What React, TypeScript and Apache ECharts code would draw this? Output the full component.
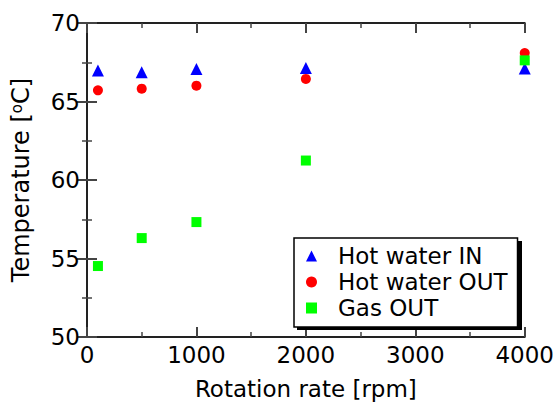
import React, { useEffect, useRef } from "react";
import * as echarts from "echarts";

const rpm = [100, 500, 1000, 2000, 4000];
const hotWaterIn = [66.97, 66.86, 67.07, 67.14, 67.1];
const hotWaterOut = [65.71, 65.82, 66.01, 66.44, 68.09];
const gasOut = [54.52, 56.3, 57.32, 61.24, 67.62];
const seriesNames = ["Hot water IN", "Hot water OUT", "Gas OUT"];
const seriesSymbols = ["triangle", "circle", "rect"];
const seriesColors = ["#0000ff", "#ff0000", "#00ff00"];

const FONT = "DejaVu Sans";

export default function App() {
  const ref = useRef<HTMLDivElement>(null);
  useEffect(() => {
    if (!ref.current) return;
    const chart = echarts.init(ref.current, null, { renderer: "svg" });
    const axisLine = { show: true, lineStyle: { color: "#222", width: 2 } };
    const axisTick = { show: true, inside: true, length: 10, lineStyle: { color: "#444", width: 2 } };
    const minorTick = { show: true, splitNumber: 2, length: 5, lineStyle: { color: "#444", width: 1.5 } };
    const label = { fontFamily: FONT, fontSize: 23, color: "#000" };
    const mk = (d: number[]) => rpm.map((x, i) => [x, d[i]]);
    const sizes = [12, 10, 10];
    const data = [hotWaterIn, hotWaterOut, gasOut];
    chart.setOption({
      animation: false,
      grid: { left: 87, right: 30, top: 23, bottom: 67 },
      graphic: [
        { type: "rect", left: 297, top: 241, z: 3, shape: { width: 225, height: 89 }, style: { fill: "#000" } },
      ],
      xAxis: [
        {
          type: "value", min: 0, max: 4000, interval: 1000, position: "bottom",
          axisLine, axisTick, minorTick, splitLine: { show: false },
          axisLabel: { ...label, margin: 6, formatter: (v: number) => String(v) },
          name: "Rotation rate [rpm]", nameLocation: "middle", nameGap: 40,
          nameTextStyle: { ...label },
        },
        {
          type: "value", min: 0, max: 4000, interval: 1000, position: "top",
          axisLine, axisTick, minorTick, splitLine: { show: false },
          axisLabel: { show: false },
        },
      ],
      yAxis: [
        {
          type: "value", min: 50, max: 70, interval: 5, position: "left",
          axisLine, axisTick, minorTick, splitLine: { show: false },
          axisLabel: { ...label, margin: 7 },
          name: "Temperature [{s|o}C]", nameLocation: "middle", nameGap: 54, nameRotate: 90,
          nameTextStyle: {
            ...label, fontSize: 24,
            rich: { s: { fontFamily: FONT, fontSize: 15, verticalAlign: "top", color: "#000" } },
          },
        },
        {
          type: "value", min: 50, max: 70, interval: 5, position: "right",
          axisLine, axisTick, minorTick, splitLine: { show: false },
          axisLabel: { show: false },
        },
      ],
      legend: {
        orient: "vertical",
        left: 294, top: 238, z: 10,
        data: seriesNames.map((n, i) => ({ name: n, icon: seriesSymbols[i] })),
        itemWidth: 11, itemHeight: 11, itemGap: 0,
        padding: [5, 10, 6, 12],
        backgroundColor: "#fff",
        borderColor: "#000", borderWidth: 1.5, borderRadius: 0,
        textStyle: { fontFamily: FONT, fontSize: 23, color: "#000", lineHeight: 26, padding: [0, 0, 0, 16] },
      },
      series: seriesNames.map((n, i) => ({
        name: n, type: "scatter", symbol: seriesSymbols[i], symbolSize: sizes[i], clip: false,
        itemStyle: { color: seriesColors[i], opacity: 1 }, data: mk(data[i]),
      })),
    });
    return () => chart.dispose();
  }, []);
  return <div ref={ref} style={{ width: 557, height: 405, position: "absolute", left: 0, top: 0 }} />;
}
